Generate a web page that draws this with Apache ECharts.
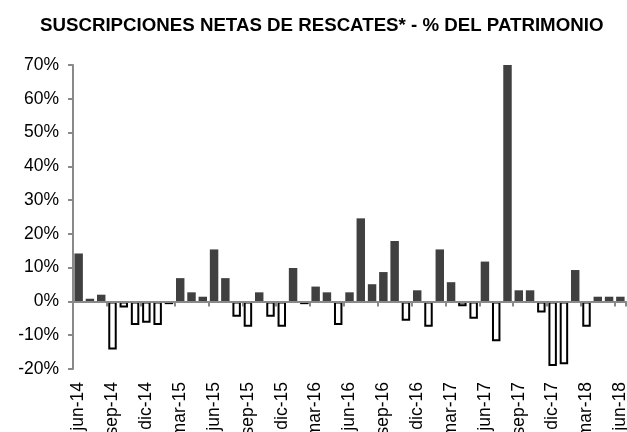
<!DOCTYPE html>
<html>
<head>
<meta charset="utf-8">
<script src="https://cdn.jsdelivr.net/npm/echarts@6/dist/echarts.min.js"></script>
<style>html,body{margin:0;padding:0;background:#fff;}#c{width:627px;height:432px;}</style>
</head>
<body>
<div id="c"></div>
<script>
var categories = ['jun-14','jul-14','ago-14','sep-14','oct-14','nov-14','dic-14','ene-15','feb-15','mar-15','abr-15','may-15',
  'jun-15','jul-15','ago-15','sep-15','oct-15','nov-15','dic-15','ene-16','feb-16','mar-16','abr-16','may-16',
  'jun-16','jul-16','ago-16','sep-16','oct-16','nov-16','dic-16','ene-17','feb-17','mar-17','abr-17','may-17',
  'jun-17','jul-17','ago-17','sep-17','oct-17','nov-17','dic-17','ene-18','feb-18','mar-18','abr-18','may-18','jun-18'];
var values = [14.2, 0.8, 2.0, -14.2, -1.8, -7.0, -6.3, -7.0, -0.8, 6.9, 2.7, 1.4,
  15.4, 6.9, -4.5, -7.5, 2.7, -4.5, -7.5, 9.9, -0.8, 4.4, 2.7, -7.0,
  2.7, 24.6, 5.1, 8.7, 17.9, -5.7, 3.3, -7.5, 15.4, 5.7, -1.4, -5.1,
  11.8, -11.8, 70.0, 3.3, 3.3, -3.3, -19.1, -18.6, 9.3, -7.5, 1.4, 1.4, 1.4];
var yTicks = {min: -20, max: 70, interval: 10};
var titleText = 'SUSCRIPCIONES NETAS DE RESCATES* - % DEL PATRIMONIO';

var font = 'Liberation Sans, Arial, sans-serif';
var barData = values.map(function (v) {
  return v < 0
    ? {value: v, itemStyle: {color: '#ffffff', borderColor: '#000000', borderWidth: 2}}
    : {value: v, itemStyle: {color: '#404040', borderWidth: 0}};
});

var chart = echarts.init(document.getElementById('c'), null, {renderer: 'canvas'});
chart.setOption({
  animation: false,
  backgroundColor: '#ffffff',
  title: {
    text: titleText,
    left: 35, top: 11,
    textStyle: {fontFamily: font, fontSize: 18.7, fontWeight: 'bold', color: '#000'}
  },
  grid: {left: 73, right: 1, top: 65, bottom: 63, containLabel: false, outerBoundsMode: 'none'},
  xAxis: [{
    type: 'category', data: categories, position: 'bottom',
    axisLine: {show: false, onZero: false}, axisTick: {show: false},
    axisLabel: {interval: 2, rotate: 90, margin: 13, fontFamily: font, fontSize: 17.5, color: '#000', hideOverlap: false},
    splitLine: {show: false}
  }, {
    type: 'category', data: categories, position: 'bottom',
    axisLine: {show: true, onZero: true, lineStyle: {color: '#898989', width: 2}},
    axisTick: {show: true, interval: 2, length: 5, inside: false, lineStyle: {color: '#898989', width: 2}},
    axisLabel: {show: false}, splitLine: {show: false}, z: 10
  }],
  yAxis: {
    type: 'value', min: yTicks.min, max: yTicks.max, interval: yTicks.interval,
    axisLine: {show: true, lineStyle: {color: '#898989', width: 2}},
    axisTick: {show: true, length: 5, lineStyle: {color: '#898989', width: 2}},
    axisLabel: {margin: 14, fontFamily: font, fontSize: 17.5, color: '#000', formatter: '{value}%'},
    splitLine: {show: false}
  },
  series: [{
    type: 'bar', xAxisIndex: 0, data: barData, barCategoryGap: '25%', z: 2
  }]
});
</script>
</body>
</html>
